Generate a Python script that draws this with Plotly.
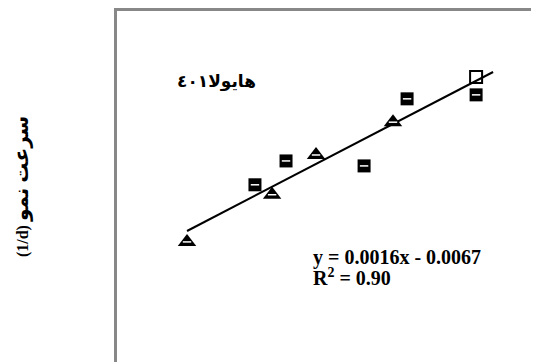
import plotly.graph_objects as go

# data (axis units are arbitrary, no ticks are shown)
tri_x = [10.0, 15.56, 18.43, 23.46]
tri_y = [0.0071, 0.0166, 0.0246, 0.0312]

sq_x = [14.44, 16.47, 21.57, 24.38, 28.89]
sq_y = [0.0186, 0.0234, 0.0224, 0.0359, 0.0367]

open_x = [28.89]
open_y = [0.0403]

trend_x = [10.0, 30.0]
trend_y = [0.0093, 0.0413]

cultivar = "هايولا٤٠١"
y_title_ar = "سرعت نمو"
y_title_unit = "(1/d)"
eq_text = "y = 0.0016x - 0.0067"
r2_text = "R<sup>2</sup> = 0.90"

fig = go.Figure()

# trend line
fig.add_trace(go.Scatter(x=trend_x, y=trend_y, mode="lines",
                         line=dict(color="black", width=2), showlegend=False))

# markers
fig.add_trace(go.Scatter(x=tri_x, y=tri_y, mode="markers",
                         marker=dict(symbol="triangle-up", size=16, color="black"),
                         showlegend=False))
fig.add_trace(go.Scatter(x=sq_x, y=sq_y, mode="markers",
                         marker=dict(symbol="square", size=13, color="black"),
                         showlegend=False))
fig.add_trace(go.Scatter(x=open_x, y=open_y, mode="markers",
                         marker=dict(symbol="square-open", size=12, color="black",
                                     line=dict(width=2)),
                         showlegend=False))
# small white strokes inside the markers
fig.add_trace(go.Scatter(x=sq_x + tri_x, y=sq_y + tri_y, mode="markers",
                         marker=dict(symbol="line-ew", size=6,
                                     line=dict(color="white", width=1.5)),
                         showlegend=False))

fig.update_xaxes(range=[5.425, 33.0], showgrid=False, zeroline=False,
                 showticklabels=False, showline=True, side="top",
                 linecolor="#888888", linewidth=3, ticks="")
fig.update_yaxes(range=[-0.01707, 0.05358], showgrid=False, zeroline=False,
                 showticklabels=False, showline=True,
                 linecolor="#888888", linewidth=3, ticks="")

font_b = "Liberation Serif, DejaVu Sans, serif"

fig.add_annotation(x=0.137, y=0.831, xref="paper", yref="paper",
                   xanchor="left",
                   text=f"<b>{cultivar}</b>", showarrow=False,
                   font=dict(family=font_b, size=17, color="black"))
fig.add_annotation(x=0.46, y=0.26, xref="paper", yref="paper",
                   xanchor="left",
                   text=f"<b>{eq_text}</b>", showarrow=False,
                   font=dict(family=font_b, size=20, color="black"))
fig.add_annotation(x=0.46, y=0.203, xref="paper", yref="paper",
                   xanchor="left",
                   text=f"<b>{r2_text}</b>", showarrow=False,
                   font=dict(family=font_b, size=20, color="black"))
# unit first so it ends up at the bottom once rotated
fig.add_annotation(x=-0.258, y=0.50, xref="paper", yref="paper",
                   text=(f"<b>{y_title_unit} "
                         f"<span style='font-size:20px'>{y_title_ar}</span></b>"),
                   showarrow=False, textangle=-90,
                   font=dict(family=font_b, size=16, color="black"))

fig.update_layout(width=531, height=354,
                  margin=dict(l=109, r=0, t=3, b=0),
                  paper_bgcolor="white", plot_bgcolor="white")

fig.write_html("out.html")
